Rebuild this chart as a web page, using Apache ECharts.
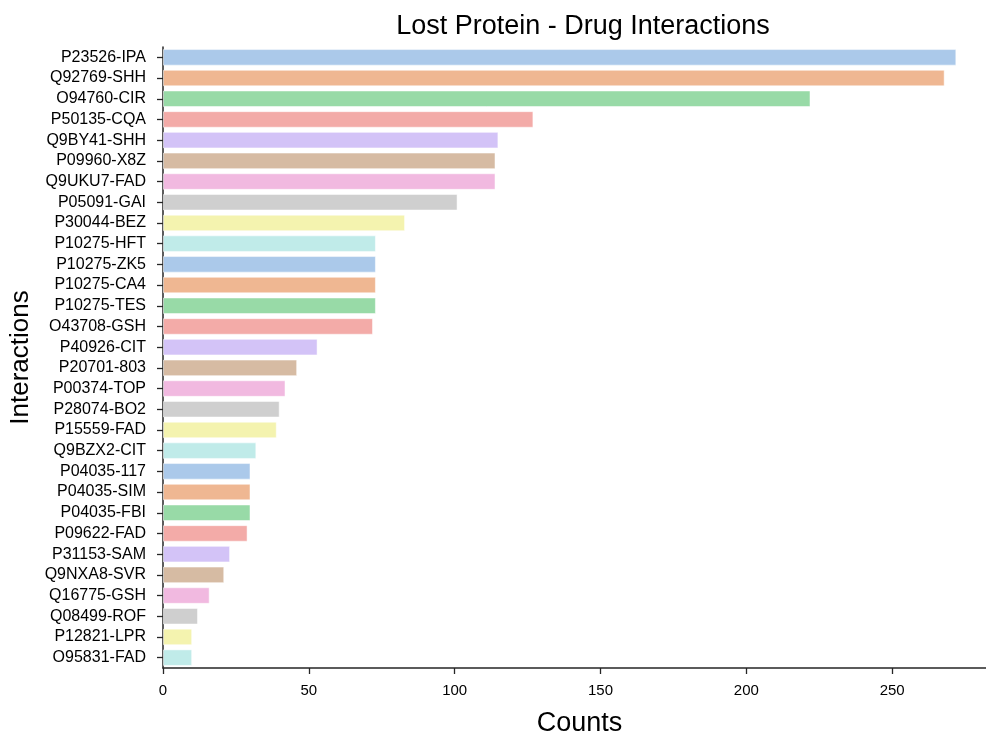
<!DOCTYPE html>
<html>
<head>
<meta charset="utf-8">
<script src="https://cdn.jsdelivr.net/npm/echarts@6/dist/echarts.min.js"></script>
<style>html,body{margin:0;padding:0;background:#fff;}#chart{width:986px;height:731px;}</style>
</head>
<body>
<div id="chart"></div>
<script>
const categories = ["P23526-IPA","Q92769-SHH","O94760-CIR","P50135-CQA","Q9BY41-SHH","P09960-X8Z","Q9UKU7-FAD","P05091-GAI","P30044-BEZ","P10275-HFT","P10275-ZK5","P10275-CA4","P10275-TES","O43708-GSH","P40926-CIT","P20701-803","P00374-TOP","P28074-BO2","P15559-FAD","Q9BZX2-CIT","P04035-117","P04035-SIM","P04035-FBI","P09622-FAD","P31153-SAM","Q9NXA8-SVR","Q16775-GSH","Q08499-ROF","P12821-LPR","O95831-FAD"];
const counts = [272,268,222,127,115,114,114,101,83,73,73,73,73,72,53,46,42,40,39,32,30,30,30,29,23,21,16,12,10,10];
const xTicks = [0,50,100,150,200,250];
const palette = ["#abc9ea","#efb792","#98daa7","#f3aba8","#d3c3f7","#d6bba3","#f1b9e0","#cfcfcf","#f4f3af","#c0ebe9"];

const chart = echarts.init(document.getElementById('chart'));
const ink = '#262626';
const font = 'Liberation Sans, Arial, sans-serif';
chart.setOption({
  animation: false,
  title: {
    text: 'Lost Protein - Drug Interactions',
    left: 578, top: 8, textAlign: 'center',
    textStyle: {fontFamily: font, fontSize: 27, fontWeight: 'normal', color: '#000'}
  },
  grid: {left: 163, top: 47, width: 833, height: 621, containLabel: false, outerBoundsMode: 'none'},
  xAxis: {
    type: 'value', min: 0, max: 285.6, interval: 50,
    name: 'Counts', nameLocation: 'middle', nameGap: 42,
    nameTextStyle: {fontFamily: font, fontSize: 27, color: '#000'},
    axisLine: {show: true, lineStyle: {color: ink, width: 1.5}},
    axisTick: {show: true, length: 6, customValues: xTicks, lineStyle: {color: ink, width: 1.3}},
    axisLabel: {fontFamily: font, fontSize: 15, color: '#000', margin: 15, customValues: xTicks},
    splitLine: {show: false}
  },
  yAxis: {
    type: 'category', data: categories, inverse: true,
    name: 'Interactions', nameLocation: 'middle', nameGap: 129,
    nameTextStyle: {fontFamily: font, fontSize: 26, color: '#000'},
    axisLine: {show: true, lineStyle: {color: ink, width: 1.5}},
    axisTick: {show: true, alignWithLabel: true, interval: 0, length: 6, lineStyle: {color: ink, width: 1.3}},
    axisLabel: {fontFamily: font, fontSize: 16, color: '#000', margin: 17, interval: 0, hideOverlap: false}
  },
  series: [{
    type: 'bar',
    data: counts.map((v, i) => ({value: v, itemStyle: {color: palette[i % palette.length]}})),
    barCategoryGap: '20%',
    itemStyle: {borderColor: 'rgba(255,255,255,0.5)', borderWidth: 1}
  }]
});
</script>
</body>
</html>
